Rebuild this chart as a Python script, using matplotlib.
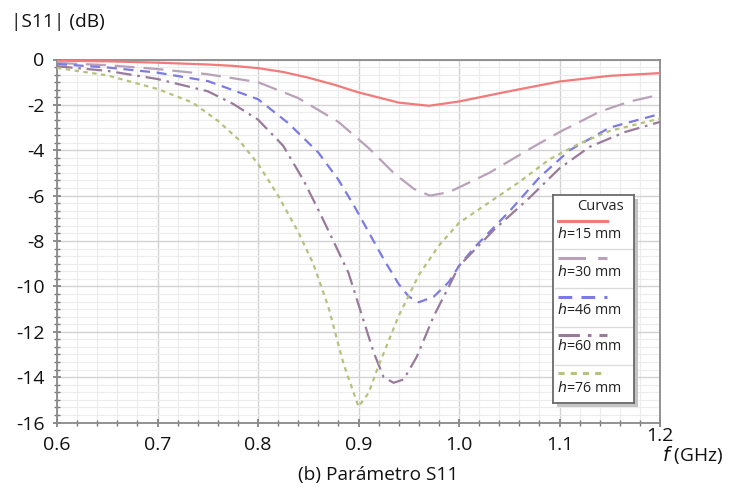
import matplotlib
matplotlib.use("Agg")
import matplotlib.pyplot as plt
from matplotlib.ticker import MultipleLocator
import matplotlib.transforms as mtransforms

plt.rcParams['font.family'] = ['Open Sans', 'DejaVu Sans']

# ---- data ----
f_h15 = [0.6, 0.65, 0.7, 0.75, 0.775, 0.8, 0.825, 0.85, 0.875, 0.9, 0.94, 0.97, 1.0, 1.05, 1.1, 1.15, 1.2]
s_h15 = [-0.05, -0.08, -0.14, -0.22, -0.28, -0.38, -0.55, -0.8, -1.1, -1.45, -1.9, -2.04, -1.85, -1.4, -0.97, -0.72, -0.6]

f_h30 = [0.6, 0.65, 0.7, 0.75, 0.8, 0.84, 0.88, 0.91, 0.935, 0.955, 0.971, 0.99, 1.03, 1.07, 1.1, 1.14, 1.17, 1.2]
s_h30 = [-0.15, -0.25, -0.42, -0.65, -1.0, -1.7, -2.75, -3.9, -5.0, -5.7, -6.0, -5.85, -5.0, -3.95, -3.2, -2.3, -1.85, -1.55]

f_h46 = [0.6, 0.65, 0.7, 0.75, 0.8, 0.83, 0.86, 0.88, 0.895, 0.91, 0.925, 0.94, 0.95, 0.96, 0.975, 0.99, 1.0, 1.015, 1.05, 1.08, 1.11, 1.15, 1.2]
s_h46 = [-0.2, -0.35, -0.58, -0.95, -1.75, -2.8, -4.1, -5.3, -6.4, -7.6, -8.8, -9.9, -10.45, -10.7, -10.45, -9.8, -9.1, -8.3, -6.7, -5.2, -4.0, -3.0, -2.4]

f_h60 = [0.6, 0.65, 0.7, 0.75, 0.775, 0.8, 0.825, 0.845, 0.862, 0.875, 0.89, 0.9, 0.915, 0.925, 0.935, 0.945, 0.958, 0.975, 0.99, 1.0, 1.035, 1.07, 1.1, 1.13, 1.165, 1.2]
s_h60 = [-0.3, -0.5, -0.86, -1.4, -1.95, -2.65, -3.8, -5.3, -6.8, -8.0, -9.4, -10.8, -12.9, -14.0, -14.25, -14.1, -13.1, -11.3, -10.0, -9.1, -7.5, -6.1, -4.8, -3.85, -3.2, -2.75]

f_h76 = [0.6, 0.65, 0.7, 0.735, 0.76, 0.78, 0.8, 0.82, 0.84, 0.855, 0.87, 0.885, 0.9, 0.91, 0.92, 0.94, 0.96, 0.98, 1.0, 1.03, 1.06, 1.09, 1.12, 1.15, 1.2]
s_h76 = [-0.37, -0.7, -1.3, -1.9, -2.7, -3.5, -4.6, -6.0, -7.6, -9.0, -10.9, -13.4, -15.3, -14.7, -13.5, -11.3, -9.5, -8.2, -7.2, -6.3, -5.4, -4.4, -3.7, -3.15, -2.6]

labels = ["15", "30", "46", "60", "76"]
x_ticks = [0.6, 0.7, 0.8, 0.9, 1.0, 1.1, 1.2]
x_ticklabels = ["0.6", "0.7", "0.8", "0.9", "1.0", "1.1", "1.2"]
y_ticks = [0, -2, -4, -6, -8, -10, -12, -14, -16]

series = [(f_h15, s_h15), (f_h30, s_h30), (f_h46, s_h46), (f_h60, s_h60), (f_h76, s_h76)]
colors = ["#f27a7a", "#b9a2b9", "#7b7be3", "#9a7a9a", "#b6c27c"]
styles = ["-", (0, (9, 4)), (0, (4.5, 3)), (0, (7, 2.6, 1.2, 2.6)), (0, (2.0, 2.0))]
lw = 1.6

fig = plt.figure(figsize=(7.3, 4.91), dpi=100)
ax = fig.add_axes([57/730, 1-422.5/491, (660-57)/730, (422.5-59.5)/491])

for (fx, sy), c, ls in zip(series, colors, styles):
    ax.plot(fx, sy, color=c, linestyle=ls, linewidth=lw, zorder=3)

ax.set_xlim(0.6, 1.2)
ax.set_ylim(-16, 0)
ax.set_xticks(x_ticks)
ax.set_xticklabels(x_ticklabels)
ax.set_yticks(y_ticks)
ax.set_yticklabels([str(v) for v in y_ticks])
ax.xaxis.set_minor_locator(MultipleLocator(0.02))
ax.yaxis.set_minor_locator(MultipleLocator(1/3))
ax.grid(which='major', color='#d2d2d2', linewidth=1.0, zorder=0)
ax.grid(which='minor', color='#ececec', linewidth=0.8, zorder=0)
ax.set_axisbelow(True)
for sp in ax.spines.values():
    sp.set_color('#8a8a8a')
    sp.set_linewidth(1.3)
ax.tick_params(which='both', direction='inout', color='#7a7a7a', labelsize=14, labelcolor='#111111')
ax.tick_params(which='major', length=6, width=1.2)
ax.tick_params(which='minor', length=4, width=1.0)
ax.tick_params(axis='x', pad=7)
ax.tick_params(axis='y', pad=6)

# raise the last x tick label like the reference
lbls = ax.get_xticklabels()
offset = mtransforms.ScaledTranslation(0, 9/100, fig.dpi_scale_trans)
lbls[-1].set_transform(lbls[-1].get_transform() + offset)

fig.text(11/730, 1-22/491, "|S11| (dB)", fontsize=13.8, va='center', ha='left', color='#111111')
fig.text(662/730, 1-455/491, r"$\it{f}$ (GHz)", fontsize=13.8, va='center', ha='left', color='#111111')
fig.text(378/730, 1-475/491, "(b) Parámetro S11", fontsize=13.8, va='center', ha='center', color='#111111')

# ---- custom legend box ----
lx0, lx1, ly0, ly1 = 553, 634, 195, 403
shadow = plt.Rectangle(((lx0+4)/730, 1-(ly1+4)/491), (lx1-lx0)/730, (ly1-ly0)/491,
                       transform=fig.transFigure, facecolor='#c4c4c4', edgecolor='none', zorder=4)
fig.patches.append(shadow)
lax = fig.add_axes([lx0/730, 1-ly1/491, (lx1-lx0)/730, (ly1-ly0)/491], zorder=5)
lax.set_xlim(lx0, lx1)
lax.set_ylim(ly1, ly0)
lax.set_xticks([])
lax.set_yticks([])
lax.set_facecolor('white')
for sp in lax.spines.values():
    sp.set_color('#6a6a6a')
    sp.set_linewidth(1.3)
lax.text(600, 207, "Curvas", fontsize=10.5, ha='center', va='center', color='#222222')
line_y = [221, 258, 297, 335, 373]
text_y = [235, 272, 311, 347, 388]
sep_y = [249, 288, 327, 365]
for yy in sep_y:
    lax.plot([lx0+2, lx1-2], [yy, yy], color='#dcdcdc', linewidth=1.0)
for yl, yt, c, ls, lab in zip(line_y, text_y, colors, styles, labels):
    lax.plot([558, 607], [yl, yl], color=c, linestyle=ls, linewidth=2.2)
    lax.text(557, yt, r"$\it{h}$=" + lab + " mm", fontsize=10.3, ha='left', va='center', color='#222222')

fig.savefig("out.png", dpi=100)
